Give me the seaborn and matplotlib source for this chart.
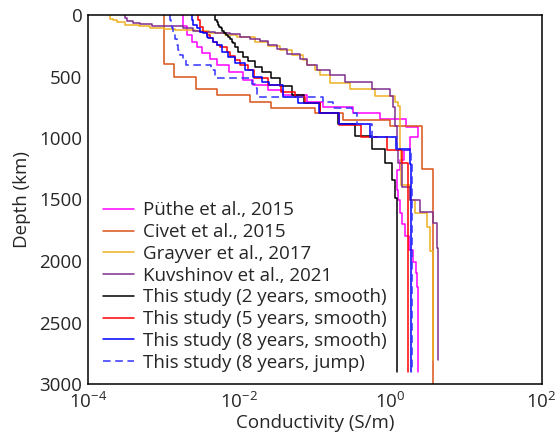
import numpy as np
import pandas as pd
import matplotlib
matplotlib.use("Agg")
import matplotlib.pyplot as plt
import seaborn as sns
from matplotlib.ticker import LogLocator, NullFormatter

# ---------------- data (layer top depth in km, conductivity in S/m) ----------------
puthe_depth = [0, 89, 163, 217, 258, 309, 358, 407, 463, 528, 569, 610, 650, 705, 750, 799,
               848, 908, 992, 1098, 1180, 1260, 1420, 1504, 1610, 1700, 1800, 1911, 2005, 2098, 2211]
puthe_sigma = [1.81e-3, 2.04e-3, 2.38e-3, 2.77e-3, 3.22e-3, 4.11e-3, 5.08e-3, 7.33e-3, 0.0112, 0.0152,
               0.0240, 0.0379, 0.0789, 0.128, 0.320, 0.728, 1.61, 2.32, 1.82, 1.51, 1.34, 1.22, 1.26,
               1.34, 1.42, 1.56, 1.76, 1.99, 2.18, 2.25, 2.34]
puthe_bottom = 2900

civet_depth = [0, 398, 502, 604, 653, 707, 754, 800, 850, 902, 1254]
civet_sigma = [1.0e-3, 1.39e-3, 2.69e-3, 5.16e-3, 0.0138, 0.0266, 0.100, 0.236, 0.99, 2.62, 3.70]
civet_bottom = 3000

grayver_depth = [0, 35, 41, 54, 81, 87, 103, 114, 122, 128, 150, 163, 182, 217, 250, 285, 325, 366,
                 407, 447, 488, 550, 604, 659, 705, 740, 1100, 1380, 1504, 1610, 1720, 1915]
grayver_sigma = [1.95e-4, 2.14e-4, 2.42e-4, 3.08e-4, 4.73e-4, 6.61e-4, 1.01e-3, 1.42e-3, 2.60e-3,
                 3.99e-3, 6.49e-3, 9.35e-3, 0.0162, 0.0240, 0.0347, 0.0499, 0.0698, 0.0789, 0.1007,
                 0.117, 0.159, 0.292, 0.625, 1.15, 1.26, 1.34, 1.40, 1.82, 2.11, 3.05, 3.34, 3.66]
grayver_bottom = 2805

kuv_depth = [0, 27, 46, 63, 73, 89, 108, 127, 136, 149, 157, 176, 195, 215, 240, 279, 317, 360,
             407, 447, 488, 542, 604, 659, 746, 900, 1100, 1203, 1398, 1504, 1599, 1694, 1894]
kuv_sigma = [3.08e-4, 3.28e-4, 3.94e-4, 4.88e-4, 7.03e-4, 1.81e-3, 2.45e-3, 3.03e-3, 4.79e-3, 7.55e-3,
             0.0103, 0.0139, 0.0188, 0.0240, 0.0316, 0.0429, 0.0637, 0.0789, 0.107, 0.159, 0.251,
             0.571, 0.99, 1.08, 1.15, 1.21, 1.26, 1.41, 1.82, 2.47, 3.66, 4.13, 4.31]
kuv_bottom = 2805

s2_depth = [0, 20, 41, 60, 80, 95, 108, 130, 149, 163, 176, 198, 217, 230, 258, 298, 339, 370, 420,
            461, 515, 577, 654, 713, 799, 890, 987, 1090, 1206, 1341, 1490]
s2_sigma = [4.79e-3, 4.86e-3, 5.04e-3, 5.25e-3, 5.48e-3, 5.74e-3, 5.91e-3, 6.29e-3, 6.79e-3, 7.11e-3,
            7.55e-3, 7.96e-3, 8.36e-3, 8.79e-3, 9.79e-3, 0.0112, 0.0131, 0.0162, 0.0203, 0.0264,
            0.0347, 0.0494, 0.0719, 0.117, 0.203, 0.340, 0.566, 0.849, 1.04, 1.15, 1.21]
s2_bottom = 2900

s5_depth = [0, 41, 95, 136, 163, 190, 217, 244, 258, 298, 333, 366, 407, 451, 515, 569, 624, 667,
            715, 797, 894, 988, 1098, 1206]
s5_sigma = [2.88e-3, 3.03e-3, 3.35e-3, 3.72e-3, 4.11e-3, 4.54e-3, 5.04e-3, 5.57e-3, 6.84e-3, 7.55e-3,
            8.79e-3, 0.01026, 0.0129, 0.0157, 0.0240, 0.0357, 0.0547, 0.0741, 0.117, 0.209, 0.408,
            0.893, 1.41, 1.73]
s5_bottom = 2900

s8_depth = [0, 41, 81, 108, 136, 149, 176, 190, 217, 244, 298, 341, 393, 451, 504, 545, 573, 663,
            715, 799, 890, 988, 1093, 1211]
s8_sigma = [2.36e-3, 2.47e-3, 2.74e-3, 3.03e-3, 3.35e-3, 3.72e-3, 3.90e-3, 4.54e-3, 5.04e-3, 5.87e-3,
            7.11e-3, 8.79e-3, 0.0119, 0.0154, 0.0200, 0.0248, 0.0383, 0.0605, 0.114, 0.209, 0.537,
            1.19, 1.82, 1.90]
s8_bottom = 2900

s8j_depth = [0, 41, 68, 108, 149, 196, 244, 285, 325, 366, 407, 446, 516, 560, 590, 663, 705, 757,
             800, 890, 990, 1095, 1210]
s8j_sigma = [1.22e-3, 1.24e-3, 1.28e-3, 1.34e-3, 1.42e-3, 1.49e-3, 1.56e-3, 1.67e-3, 1.82e-3, 1.95e-3,
             4.24e-3, 4.79e-3, 0.01476, 0.01644, 0.01746, 0.128, 0.174, 0.310, 0.361, 0.571, 1.22,
             1.87, 1.93]
s8j_bottom = 2900

labels = ["Püthe et al., 2015", "Civet et al., 2015", "Grayver et al., 2017",
          "Kuvshinov et al., 2021", "This study (2 years, smooth)",
          "This study (5 years, smooth)", "This study (8 years, smooth)",
          "This study (8 years, jump)"]

models = [
    (puthe_depth, puthe_sigma, puthe_bottom),
    (civet_depth, civet_sigma, civet_bottom),
    (grayver_depth, grayver_sigma, grayver_bottom),
    (kuv_depth, kuv_sigma, kuv_bottom),
    (s2_depth, s2_sigma, s2_bottom),
    (s5_depth, s5_sigma, s5_bottom),
    (s8_depth, s8_sigma, s8_bottom),
    (s8j_depth, s8j_sigma, s8j_bottom),
]
colors = ["#FF00FF", "#D95319", "#EDB120", "#7E2F8E", "#000000", "#FF0000", "#0000FF", "#3333FF"]
styles = ["-", "-", "-", "-", "-", "-", "-", (0, (5, 3))]


def step_profile(depth, sigma, bottom):
    xs, ys = [], []
    tops = list(depth) + [bottom]
    for i, s in enumerate(sigma):
        xs += [s, s]
        ys += [tops[i], tops[i + 1]]
    return xs, ys


rows = []
for lab, (d, s, b) in zip(labels, models):
    xs, ys = step_profile(d, s, b)
    for k, (x, y) in enumerate(zip(xs, ys)):
        rows.append({"model": lab, "sigma": x, "depth": y, "k": k})
df = pd.DataFrame(rows)

# ---------------- plotting ----------------
sns.set_style("white")
plt.rcParams["font.family"] = ["Open Sans", "DejaVu Sans"]
plt.rcParams["mathtext.fontset"] = "custom"
plt.rcParams["mathtext.rm"] = "Open Sans"
plt.rcParams["mathtext.it"] = "Open Sans:italic"

FS = 13.5

fig = plt.figure(figsize=(5.57, 4.43), dpi=100)
ax = fig.add_axes([88 / 557, 1 - 384 / 443, 453.5 / 557, 369 / 443])

for lab, col, ls in zip(labels, colors, styles):
    sub = df[df["model"] == lab]
    sns.lineplot(data=sub, x="sigma", y="depth", sort=False, estimator=None, ax=ax,
                 color=col, linestyle=ls, linewidth=1.1, label=lab)

ax.set_xscale("log")
ax.set_xlim(1e-4, 1e2)
ax.set_ylim(3000, 0)
ax.set_xticks([1e-4, 1e-2, 1e0, 1e2])
ax.set_xticklabels([r"$10^{-4}$", r"$10^{-2}$", r"$10^{0}$", r"$10^{2}$"])
ax.xaxis.set_minor_locator(LogLocator(base=10, subs=np.arange(2, 10), numticks=50))
ax.xaxis.set_minor_formatter(NullFormatter())
ax.set_yticks([0, 500, 1000, 1500, 2000, 2500, 3000])
ax.tick_params(axis="both", which="major", direction="in", length=4, width=1,
               labelsize=FS, top=False, right=False)
ax.tick_params(axis="x", which="major", pad=6)
ax.tick_params(axis="y", which="major", pad=4)
ax.tick_params(axis="x", which="minor", direction="in", length=2.2, width=0.8,
               top=False)
for sp in ax.spines.values():
    sp.set_linewidth(1.1)
    sp.set_color("black")

ax.set_xlabel("Conductivity (S/m)", fontsize=FS, labelpad=1)
ax.set_ylabel("Depth (km)", fontsize=FS, labelpad=6)

ax.legend(loc="upper left", bbox_to_anchor=(0.034, 0.495), frameon=False, fontsize=FS,
          handlelength=1.65, handletextpad=0.45, labelspacing=0.2, borderpad=0,
          borderaxespad=0)

fig.savefig("out.png", dpi=100)
